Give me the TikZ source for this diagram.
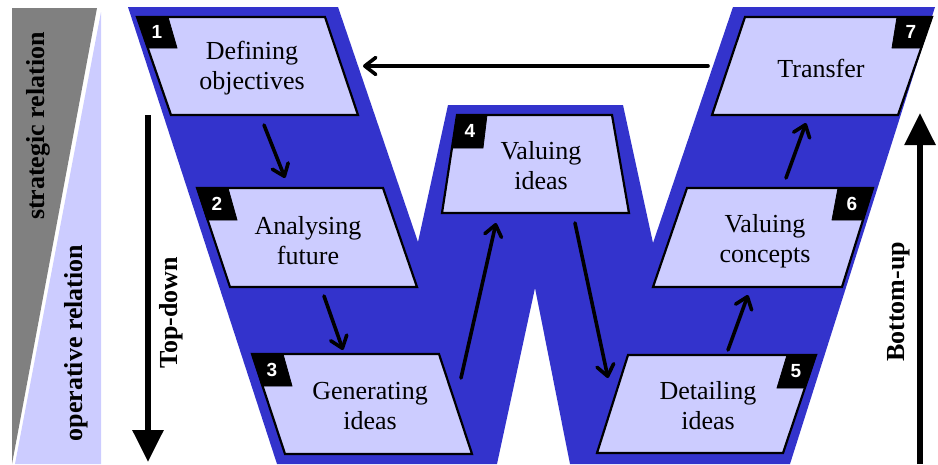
\documentclass[tikz,border=0pt]{standalone}
\usepackage{fontspec}
\setmainfont{Liberation Serif}
\newfontfamily\tagfont{Liberation Sans}
\usepackage{tikz}
\usetikzlibrary{arrows.meta}

\definecolor{wblue}{RGB}{51,51,204}
\definecolor{lav}{RGB}{204,204,255}
\definecolor{bandgray}{RGB}{128,128,128}

\tikzset{
  stagebox/.style={draw=black, fill=lav, line width=2.2pt},
  stagetag/.style={draw=black, fill=black, line width=0.8pt},
  stagetext/.style={inner sep=0.75pt, align=center, font=\fontsize{26}{30}\selectfont},
  tagnum/.style={inner sep=0pt, text=white, font=\tagfont\bfseries\fontsize{19}{19}\selectfont},
  flow/.style={line width=3.6pt, line cap=round, -{Straight Barb[length=11pt,width=17pt,round]}},
  bigflow/.style={line width=6pt, -{Triangle[length=32pt,width=30pt]}},
  sidetext/.style={rotate=90, inner sep=0.75pt, font=\bfseries\fontsize{26}{30}\selectfont},
}

\begin{document}
\begin{tikzpicture}[x=1pt,y=1pt,yscale=-1,xscale=1]
    \useasboundingbox (0,0) rectangle (938,464);

    %Shape: Triangle [strategic band]
    \fill [bandgray] (12,8) -- (97,8) -- (12,464) -- cycle ;
    %Shape: Triangle [operative band]
    \fill [lav] (101,12) -- (101,464) -- (15,464) -- cycle ;

    %Shape: Polygon [the W]
    \fill [wblue] (128,7) -- (338,7) -- (418,242) -- (448,105) -- (623,105) -- (653,243) -- (733,7) -- (935,7) -- (790,464) -- (570,464) -- (535,288) -- (497,464) -- (277,464) -- cycle ;

    %Shape: Parallelogram [stage 1]
    \draw [stagebox] (137,17) -- (325,17) -- (358,115) -- (171,115) -- cycle ;
    \draw [stagetag] (137,17) -- (168,17) -- (177,48) -- (148,48) -- cycle ;
    %Shape: Parallelogram [stage 2]
    \draw [stagebox] (197,188) -- (383,188) -- (417,287) -- (230,287) -- cycle ;
    \draw [stagetag] (197,188) -- (228,188) -- (237,220) -- (207,220) -- cycle ;
    %Shape: Parallelogram [stage 3]
    \draw [stagebox] (252,354) -- (439,354) -- (472,454) -- (285,454) -- cycle ;
    \draw [stagetag] (252,354) -- (283,354) -- (292,386) -- (262,386) -- cycle ;
    %Shape: Trapezoid [stage 4]
    \draw [stagebox] (457,115) -- (612,115) -- (629,213) -- (442,213) -- cycle ;
    \draw [stagetag] (457,115) -- (487,115) -- (483,148) -- (452,148) -- cycle ;
    %Shape: Parallelogram [stage 5]
    \draw [stagebox] (628,355) -- (816,355) -- (783,453) -- (597,453) -- cycle ;
    \draw [stagetag] (787,355) -- (816,355) -- (805,388) -- (777,388) -- cycle ;
    %Shape: Parallelogram [stage 6]
    \draw [stagebox] (687,188) -- (873,188) -- (842,287) -- (653,287) -- cycle ;
    \draw [stagetag] (838,188) -- (873,188) -- (862,220) -- (832,220) -- cycle ;
    %Shape: Parallelogram [stage 7]
    \draw [stagebox] (745,17) -- (932,17) -- (898,115) -- (712,115) -- cycle ;
    \draw [stagetag] (897,17) -- (932,17) -- (921,48) -- (892,48) -- cycle ;

    % Tag Nodes
    \node [tagnum] (g1) at (157,32) {1};
    \node [tagnum] (g2) at (217,204) {2};
    \node [tagnum] (g3) at (272,370) {3};
    \node [tagnum] (g4) at (470,131) {4};
    \node [tagnum] (g5) at (796,371) {5};
    \node [tagnum] (g6) at (852,204) {6};
    \node [tagnum] (g7) at (911,32) {7};

    % Text Nodes
    \node [stagetext] (t1) at (252,68) {Defining\\objectives};
    \node [stagetext] (t2) at (308,241) {Analysing\\future};
    \node [stagetext] (t3) at (370,406) {Generating\\ideas};
    \node [stagetext] (t4) at (541,166) {Valuing\\ideas};
    \node [stagetext] (t5) at (708,406) {Detailing\\ideas};
    \node [stagetext] (t6) at (765,241) {Valuing\\concepts};
    \node [stagetext] (t7) at (821,68) {Transfer};

    % Side Text Nodes
    \node [sidetext] (strat) at (38,126) {strategic relation};
    \node [sidetext] (oper) at (76,343) {operative relation};
    \node [sidetext] (topdown) at (171,313) {Top-down};
    \node [sidetext] (bottomup) at (899,302) {Bottom-up};

    % Arrow ends
    \coordinate (o1) at (264,125);  \coordinate (i2) at (285,178);
    \coordinate (o2) at (324,296);  \coordinate (i3) at (343,350);
    \coordinate (o3) at (461,378);  \coordinate (i4) at (496,223);
    \coordinate (o4) at (575,223);  \coordinate (i5) at (608,378);
    \coordinate (o5) at (728,350);  \coordinate (i6) at (748,295);
    \coordinate (o6) at (786,178);  \coordinate (i7) at (806,123);
    \coordinate (o7) at (708,66);   \coordinate (i1) at (363,66);
    \coordinate (tdtop) at (148,115);  \coordinate (tdend) at (148,462);
    \coordinate (bubot) at (920,464);  \coordinate (butop) at (920,113);

    %Straight Lines [stage flow]
    \draw [flow] (o1) -- (i2) ;
    \draw [flow] (o2) -- (i3) ;
    \draw [flow] (o3) -- (i4) ;
    \draw [flow] (o4) -- (i5) ;
    \draw [flow] (o5) -- (i6) ;
    \draw [flow] (o6) -- (i7) ;
    \draw [flow] (o7) -- (i1) ;
    %Straight Lines [big arrows]
    \draw [bigflow] (tdtop) -- (tdend) ;
    \draw [bigflow] (bubot) -- (butop) ;
\end{tikzpicture}
\end{document}
